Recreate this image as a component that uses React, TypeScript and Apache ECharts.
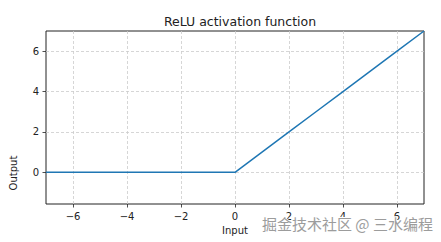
import React, { useEffect, useRef } from "react";
import * as echarts from "echarts";

// ReLU sampled on integer inputs
const inputs = [-7, -6, -5, -4, -3, -2, -1, 0, 1, 2, 3, 4, 5, 6, 7];
const outputs = [0, 0, 0, 0, 0, 0, 0, 0, 1, 2, 3, 4, 5, 6, 7];

const xTicks = [-6, -4, -2, 0, 2, 4, 6];
const yTicks = [0, 2, 4, 6];

const titleText = "ReLU activation function";
const xLabel = "Input";
const yLabel = "Output";
const watermark = "掘金技术社区 @ 三水编程";

const FONT = "DejaVu Sans";
const fmt = (v: number) => (v < 0 ? "\u2212" + Math.abs(v) : String(v));

export default function App() {
  const ref = useRef<HTMLDivElement>(null);

  useEffect(() => {
    document.body.style.margin = "0";
    const chart = echarts.init(ref.current!, undefined, { renderer: "svg" });
    const axisCommon = {
      type: "value" as const,
      axisLine: { show: false, onZero: false },
      splitLine: {
        show: true,
        lineStyle: { color: "#cccccc", width: 0.8, type: [3, 2] },
      },
    };
    chart.setOption({
      animation: false,
      backgroundColor: "#fff",
      title: {
        text: titleText,
        left: 235,
        top: 10,
        textAlign: "center",
        textStyle: { fontFamily: FONT, fontSize: 12.5, fontWeight: "normal", color: "#222" },
      },
      grid: {
        left: 46,
        right: 17,
        top: 31,
        bottom: 38,
        show: true,
        borderColor: "#222",
        borderWidth: 1,
        outerBoundsMode: "none",
      },
      xAxis: {
        ...axisCommon,
        position: "bottom",
        min: -7,
        max: 7,
        name: xLabel,
        nameLocation: "middle",
        nameGap: 21,
        nameTextStyle: { fontFamily: FONT, fontSize: 10, color: "#222" },
        axisTick: {
          show: true,
          inside: false,
          length: 3.5,
          customValues: xTicks,
          lineStyle: { color: "#222", width: 0.8 },
        },
        axisLabel: {
          customValues: xTicks,
          margin: 7,
          formatter: fmt,
          fontFamily: FONT,
          fontSize: 10,
          color: "#222",
        },
      },
      yAxis: {
        ...axisCommon,
        position: "left",
        min: -1.57,
        max: 7,
        axisTick: {
          show: true,
          inside: false,
          length: 3.5,
          customValues: yTicks,
          lineStyle: { color: "#222", width: 0.8 },
        },
        axisLabel: {
          customValues: yTicks,
          margin: 7,
          formatter: fmt,
          fontFamily: FONT,
          fontSize: 10,
          color: "#222",
        },
      },
      series: [
        {
          type: "line",
          data: inputs.map((x, i) => [x, outputs[i]]),
          showSymbol: false,
          symbol: "none",
          lineStyle: { color: "#1f77b4", width: 1.5 },
          clip: true,
        },
      ],
      graphic: [
        {
          type: "text",
          x: 13,
          y: 173,
          rotation: Math.PI / 2,
          style: {
            text: yLabel,
            fontFamily: FONT,
            fontSize: 10,
            fill: "#222",
            align: "center",
            verticalAlign: "middle",
          },
        },
        {
          type: "text",
          x: 262,
          y: 223,
          z: 100,
          style: {
            text: watermark,
            fontFamily: "Noto Sans CJK SC",
            fontSize: 15,
            fill: "#9c9c9c",
            stroke: "#ffffff",
            lineWidth: 2,
            align: "left",
            verticalAlign: "middle",
          },
        },
      ],
    });
    return () => chart.dispose();
  }, []);

  return <div ref={ref} style={{ width: 441, height: 242 }} />;
}
